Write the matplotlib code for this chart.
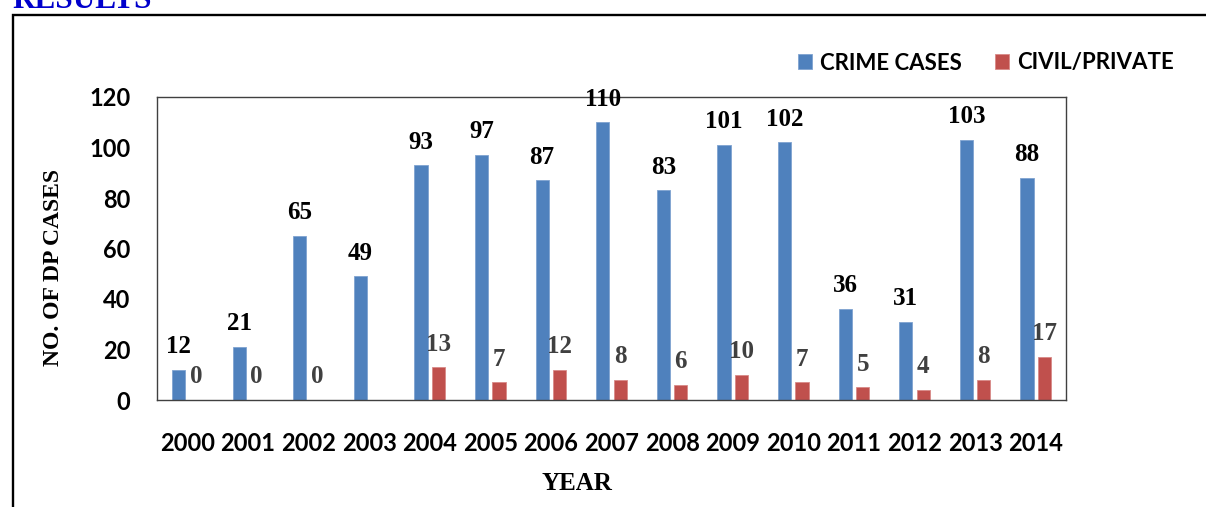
import matplotlib
matplotlib.use("Agg")
import matplotlib.pyplot as plt
from matplotlib.patches import Rectangle
import numpy as np

# data
years = ["2000", "2001", "2002", "2003", "2004", "2005", "2006", "2007",
         "2008", "2009", "2010", "2011", "2012", "2013", "2014"]
crime_cases = [12, 21, 65, 49, 93, 97, 87, 110, 83, 101, 102, 36, 31, 103, 88]
civil_private = [0, 0, 0, 0, 13, 7, 12, 8, 6, 10, 7, 5, 4, 8, 17]
civil_labels = ["0", "0", "0", "", "13", "7", "12", "8", "6", "10", "7", "5", "4", "8", "17"]
y_ticks = [0, 20, 40, 60, 80, 100, 120]

BLUE = "#4F81BD"
RED = "#C0504D"
SANS = "Lato"
SERIF = "Liberation Serif"

W, H = 1206, 507
fig = plt.figure(figsize=(W / 100, H / 100), dpi=100)
ax = fig.add_axes([157 / W, 1 - 400 / H, (1066 - 157) / W, (400 - 97) / H])

x = np.arange(len(years))
off = 0.144
bw = 0.22
b1 = ax.bar(x - off, crime_cases, bw, color=BLUE, edgecolor="#7FA3D0", linewidth=0.6,
            label="CRIME CASES")
b2 = ax.bar(x + off, civil_private, bw, color=RED, edgecolor="#D88A88", linewidth=0.6,
            label="CIVIL/PRIVATE")

# value labels
for xi, v in zip(x, crime_cases):
    ax.annotate(str(v), (xi - off, v), xytext=(0, 12), textcoords="offset points",
                ha="center", va="baseline", fontsize=18, fontweight="bold",
                family=SERIF, color="black", annotation_clip=False)
for xi, v, t in zip(x, civil_private, civil_labels):
    if t:
        ax.annotate(t, (xi + off, v), xytext=(0, 12), textcoords="offset points",
                    ha="center", va="baseline", fontsize=18, fontweight="bold",
                    family=SERIF, color="#404040", annotation_clip=False)

ax.set_xlim(-0.5, len(years) - 0.5)
ax.set_ylim(0, 120)
ax.set_yticks(y_ticks)
ax.set_xticks(x)
ax.set_xticklabels(years)
ax.tick_params(length=0)
ax.tick_params(axis="y", pad=19)
ax.tick_params(axis="x", pad=23)
for lab in ax.get_xticklabels() + ax.get_yticklabels():
    lab.set_fontfamily(SANS)
    lab.set_fontweight("bold")
    lab.set_fontsize(17)
for s in ax.spines.values():
    s.set_color("#404040")
    s.set_linewidth(1.0)

leg = fig.legend(handles=[b1, b2], loc="center right",
                 bbox_to_anchor=(1194 / W, 1 - 63 / H), ncol=2, frameon=False,
                 prop={"family": SANS, "weight": "bold", "size": 16},
                 handlelength=0.65, handleheight=0.65, handletextpad=0.35,
                 columnspacing=1.5)

fig.text(611 / W - 0.028, 1 - 484 / H, "YEAR", ha="center", va="center",
         family=SERIF, fontweight="bold", fontsize=18)
fig.text(54 / W, 1 - 268 / H, "NO. OF DP CASES", ha="center", va="center",
         rotation=90, family=SERIF, fontweight="bold", fontsize=17)

# heading cut off at the top and the outer frame
fig.text(12 / W, 1 - 8 / H, "RESULTS", ha="left", va="baseline",
         family=SERIF, fontweight="bold", fontsize=22.5, color="#0000CC")
top = 1 - 14.5 / H
fig.patches.append(Rectangle((13 / W, -0.2), 1.2, top + 0.2,
                             transform=fig.transFigure, fill=False,
                             edgecolor="black", linewidth=1.7))

fig.savefig("out.png", dpi=100)
